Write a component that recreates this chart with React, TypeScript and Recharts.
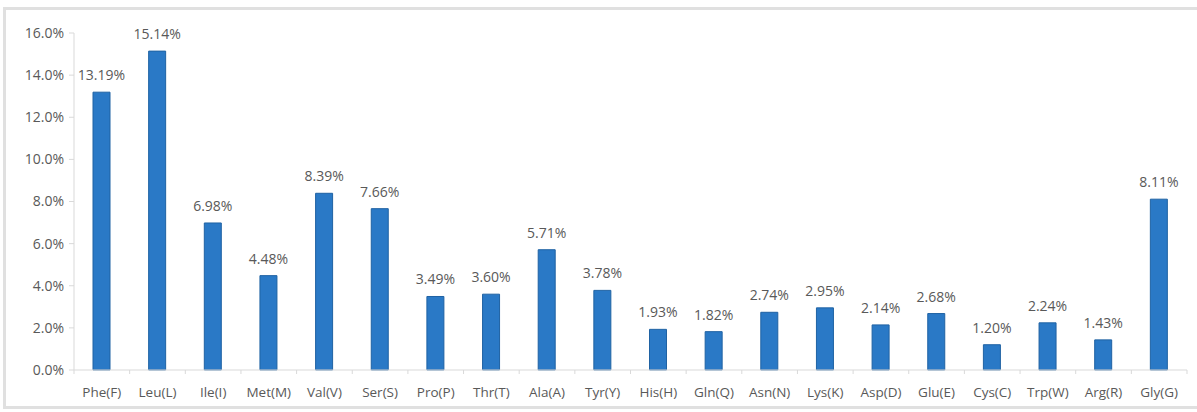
import React from 'react';
import { BarChart, Bar, XAxis, YAxis, LabelList } from 'recharts';

const categories = [
  'Phe(F)', 'Leu(L)', 'Ile(I)', 'Met(M)', 'Val(V)', 'Ser(S)', 'Pro(P)', 'Thr(T)', 'Ala(A)', 'Tyr(Y)',
  'His(H)', 'Gln(Q)', 'Asn(N)', 'Lys(K)', 'Asp(D)', 'Glu(E)', 'Cys(C)', 'Trp(W)', 'Arg(R)', 'Gly(G)',
];
const percents = [
  13.19, 15.14, 6.98, 4.48, 8.39, 7.66, 3.49, 3.6, 5.71, 3.78,
  1.93, 1.82, 2.74, 2.95, 2.14, 2.68, 1.2, 2.24, 1.43, 8.11,
];
const yTicks = [0, 2, 4, 6, 8, 10, 12, 14, 16];

const data = categories.map((name, i) => ({ name, value: percents[i] }));

const WIDTH = 1197;
const HEIGHT = 412;
const MARGIN = { top: 33, right: 10, bottom: 12, left: 0 };
const Y_WIDTH = 74;
const BAND = (WIDTH - MARGIN.left - MARGIN.right - Y_WIDTH) / categories.length;

const FONT = '"Open Sans", sans-serif';
const TEXT = '#595959';
const AXIS = '#d9d9d9';

// Excel style: text under the category, tick marks on the category borders
const CategoryTick = (props: any) => {
  const { x, y, payload, index } = props;
  const left = x - BAND / 2;
  return (
    <g>
      <line x1={left} y1={y - 8} x2={left} y2={y - 4} stroke={AXIS} />
      {index === categories.length - 1 && (
        <line x1={left + BAND} y1={y - 8} x2={left + BAND} y2={y - 4} stroke={AXIS} />
      )}
      <text x={x} y={y + 19} textAnchor="middle" fill={TEXT} fontSize={13.5} fontFamily={FONT}>
        {payload.value}
      </text>
    </g>
  );
};

export default function App() {
  return (
    <div style={{ position: 'absolute', left: 0, top: 0, width: WIDTH, height: HEIGHT, background: '#fff', overflow: 'hidden' }}>
      <div
        style={{
          position: 'absolute',
          left: 3,
          top: 7,
          width: WIDTH + 10,
          height: 396,
          border: '3px solid #e0e0e0',
        }}
      />
      <div style={{ position: 'absolute', left: 0, top: 0 }}>
        <BarChart width={WIDTH} height={HEIGHT} data={data} margin={MARGIN}>
          <XAxis
            dataKey="name"
            height={30}
            axisLine={{ stroke: AXIS }}
            tickLine={false}
            interval={0}
            tick={<CategoryTick />}
          />
          <YAxis
            width={Y_WIDTH}
            domain={[0, 16]}
            ticks={yTicks}
            interval={0}
            axisLine={{ stroke: AXIS }}
            tickLine={{ stroke: AXIS }}
            tickSize={5}
            tickMargin={5}
            tickFormatter={(v: number) => `${v.toFixed(1)}%`}
            tick={{ fill: TEXT, fontSize: 14, fontFamily: FONT }}
          />
          <Bar dataKey="value" fill="#2a79c6" stroke="#1f62a3" strokeWidth={1} barSize={17} isAnimationActive={false}>
            <LabelList
              dataKey="value"
              position="top"
              offset={12}
              formatter={(v: number) => `${v.toFixed(2)}%`}
              style={{ fill: TEXT, fontSize: 14, fontFamily: FONT }}
            />
          </Bar>
        </BarChart>
      </div>
    </div>
  );
}
